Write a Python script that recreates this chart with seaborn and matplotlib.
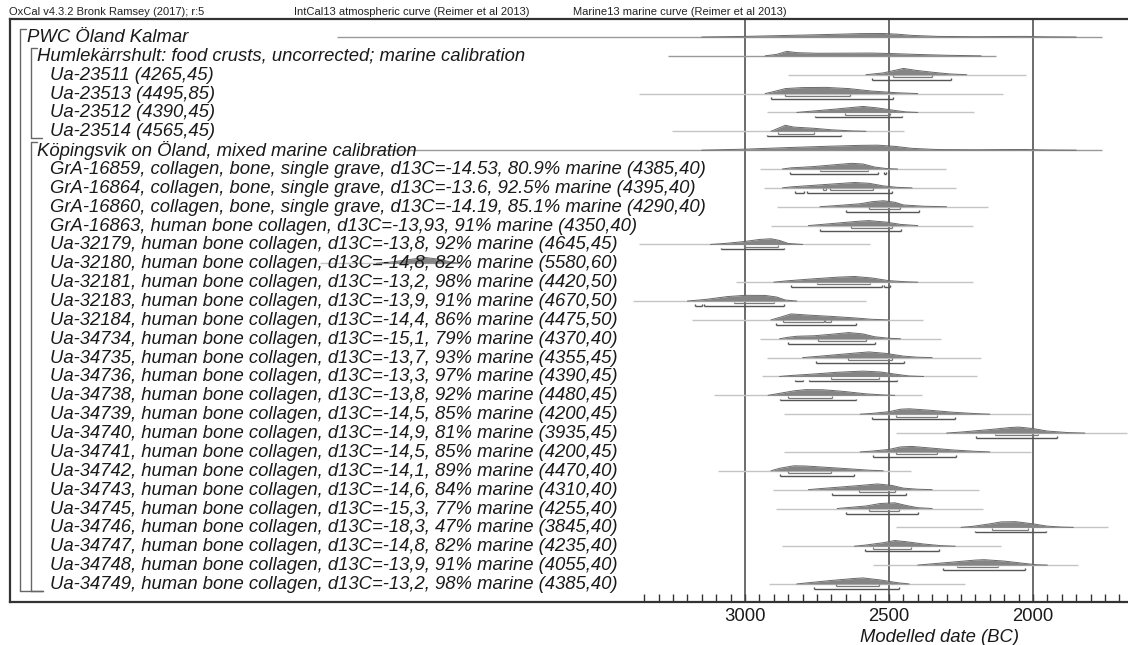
import numpy as np
import pandas as pd
import matplotlib
matplotlib.use("Agg")
from matplotlib import pyplot as plt
from matplotlib.transforms import blended_transform_factory
import seaborn as sns

labels = [
    "PWC Öland Kalmar",
    "Humlekärrshult: food crusts, uncorrected; marine calibration",
    "Ua-23511 (4265,45)",
    "Ua-23513 (4495,85)",
    "Ua-23512 (4390,45)",
    "Ua-23514 (4565,45)",
    "Köpingsvik on Öland, mixed marine calibration",
    "GrA-16859, collagen, bone, single grave, d13C=-14.53, 80.9% marine (4385,40)",
    "GrA-16864, collagen, bone, single grave, d13C=-13.6, 92.5% marine (4395,40)",
    "GrA-16860, collagen, bone, single grave, d13C=-14.19, 85.1% marine (4290,40)",
    "GrA-16863, human bone collagen, d13C=-13,93, 91% marine (4350,40)",
    "Ua-32179, human bone collagen, d13C=-13,8, 92% marine (4645,45)",
    "Ua-32180, human bone collagen, d13C=-14,8, 82% marine (5580,60)",
    "Ua-32181, human bone collagen, d13C=-13,2, 98% marine (4420,50)",
    "Ua-32183, human bone collagen, d13C=-13,9, 91% marine (4670,50)",
    "Ua-32184, human bone collagen, d13C=-14,4, 86% marine (4475,50)",
    "Ua-34734, human bone collagen, d13C=-15,1, 79% marine (4370,40)",
    "Ua-34735, human bone collagen, d13C=-13,7, 93% marine (4355,45)",
    "Ua-34736, human bone collagen, d13C=-13,3, 97% marine (4390,45)",
    "Ua-34738, human bone collagen, d13C=-13,8, 92% marine (4480,45)",
    "Ua-34739, human bone collagen, d13C=-14,5, 85% marine (4200,45)",
    "Ua-34740, human bone collagen, d13C=-14,9, 81% marine (3935,45)",
    "Ua-34741, human bone collagen, d13C=-14,5, 85% marine (4200,45)",
    "Ua-34742, human bone collagen, d13C=-14,1, 89% marine (4470,40)",
    "Ua-34743, human bone collagen, d13C=-14,6, 84% marine (4310,40)",
    "Ua-34745, human bone collagen, d13C=-15,3, 77% marine (4255,40)",
    "Ua-34746, human bone collagen, d13C=-18,3, 47% marine (3845,40)",
    "Ua-34747, human bone collagen, d13C=-14,8, 82% marine (4235,40)",
    "Ua-34748, human bone collagen, d13C=-13,9, 91% marine (4055,40)",
    "Ua-34749, human bone collagen, d13C=-13,2, 98% marine (4385,40)",
]
levels = [0, 1, 2, 2, 2, 2, 1] + [2] * 23

# unmodelled likelihood extent (BC)
lik_span = [
    (4417, 1760), (3267, 2128), (2852, 2025), (3368, 2105), (2924, 2205),
    (3253, 2448), (4299, 1760), (2948, 2302), (2933, 2267), (2888, 2156),
    (2911, 2210), (3367, 2567), (4476, 3990), (3032, 2210), (3389, 2580),
    (3184, 2382), (2948, 2320), (2924, 2182), (2942, 2196), (3106, 2387),
    (2863, 2007), (2476, 1674), (2863, 2007), (3094, 2422), (2904, 2186),
    (2892, 2174), (2476, 1740), (2872, 2112), (2557, 1844), (2917, 2236),
]

# modelled posterior outlines: (year BC, height in px)
posterior = [
    [(3150, 0), (3000, 0.6), (2850, 1.6), (2700, 2.6), (2600, 3.4), (2520, 3.5), (2470, 2.8),
     (2420, 1.6), (2330, 0.6), (2200, 0.3), (2100, 0.5), (2030, 0.6), (1960, 0.2), (1850, 0)],
    [(2930, 0), (2890, 1.5), (2855, 4.5), (2820, 3.2), (2750, 2.6), (2650, 2.7), (2560, 2.8),
     (2480, 2.2), (2400, 1.4), (2300, 0.6), (2180, 0)],
    [(2580, 0), (2520, 1.8), (2470, 5.0), (2450, 6.3), (2410, 4.5), (2350, 2.5), (2290, 0.8), (2230, 0)],
    [(2930, 0), (2900, 2.0), (2860, 5.0), (2800, 6.0), (2720, 6.2), (2640, 5.0), (2560, 2.5),
     (2470, 0.8), (2400, 0)],
    [(2820, 0), (2760, 1.5), (2680, 3.5), (2620, 5.2), (2590, 6.0), (2540, 4.5), (2480, 2.0),
     (2440, 0.5), (2400, 0)],
    [(2910, 0), (2885, 3.0), (2860, 6.0), (2830, 4.2), (2760, 3.0), (2700, 1.5), (2630, 0.4), (2580, 0)],
    [(3150, 0), (3000, 1.0), (2850, 2.6), (2700, 4.0), (2600, 4.8), (2540, 5.0), (2480, 3.8),
     (2420, 1.8), (2330, 0.6), (2200, 0.4), (2100, 0.6), (2030, 0.7), (1960, 0.2), (1850, 0)],
    [(2870, 0), (2840, 1.2), (2800, 1.8), (2760, 2.5), (2700, 4.0), (2630, 5.7), (2590, 5.0),
     (2550, 2.0), (2510, 0.5), (2470, 0)],
    [(2870, 0), (2840, 1.0), (2780, 2.2), (2700, 3.8), (2620, 5.4), (2570, 4.6), (2520, 2.0),
     (2470, 0.5), (2420, 0)],
    [(2740, 0), (2680, 1.2), (2600, 3.0), (2560, 5.0), (2520, 6.0), (2480, 4.5), (2450, 1.8),
     (2380, 0.5), (2300, 0)],
    [(2780, 0), (2740, 1.0), (2680, 2.5), (2600, 4.5), (2570, 5.0), (2510, 3.5), (2460, 1.2), (2400, 0)],
    [(3120, 0), (3070, 1.0), (3000, 3.0), (2950, 5.0), (2910, 5.7), (2880, 4.0), (2850, 1.0), (2800, 0)],
    [(4280, 0), (4220, 1.5), (4160, 4.0), (4110, 5.8), (4060, 4.0), (4020, 1.2), (3990, 0)],
    [(2900, 0), (2860, 1.2), (2780, 3.0), (2680, 5.0), (2620, 5.7), (2560, 4.2), (2500, 1.5),
     (2440, 0.4), (2400, 0)],
    [(3200, 0), (3140, 1.5), (3060, 4.5), (3000, 5.7), (2930, 5.6), (2890, 4.0), (2860, 1.0), (2820, 0)],
    [(2910, 0), (2880, 2.5), (2840, 6.0), (2780, 4.8), (2700, 3.5), (2620, 2.0), (2560, 0.6), (2500, 0)],
    [(2880, 0), (2850, 1.5), (2820, 2.5), (2760, 3.0), (2700, 4.5), (2640, 6.2), (2590, 4.8),
     (2550, 2.0), (2500, 0.5), (2460, 0)],
    [(2800, 0), (2750, 1.2), (2680, 3.0), (2600, 5.0), (2570, 5.7), (2510, 4.2), (2450, 1.5),
     (2400, 0.4), (2350, 0)],
    [(2880, 0), (2840, 1.0), (2760, 2.5), (2680, 4.2), (2590, 5.4), (2530, 4.5), (2470, 2.0),
     (2430, 0.5), (2380, 0)],
    [(2920, 0), (2880, 2.0), (2830, 4.5), (2790, 5.7), (2730, 5.6), (2660, 4.0), (2580, 1.5),
     (2520, 0.4), (2480, 0)],
    [(2600, 0), (2560, 0.8), (2500, 2.5), (2460, 5.0), (2430, 5.4), (2360, 4.0), (2280, 2.0),
     (2200, 0.6), (2150, 0)],
    [(2300, 0), (2250, 1.0), (2150, 3.5), (2080, 5.5), (2050, 6.0), (2000, 4.5), (1950, 2.0),
     (1880, 0.5), (1820, 0)],
    [(2600, 0), (2560, 0.8), (2500, 2.5), (2460, 5.0), (2420, 5.5), (2360, 4.0), (2280, 2.0),
     (2200, 0.6), (2150, 0)],
    [(2910, 0), (2880, 2.5), (2830, 5.0), (2790, 4.8), (2720, 3.5), (2640, 2.0), (2570, 0.6), (2520, 0)],
    [(2780, 0), (2740, 1.0), (2660, 2.8), (2600, 4.2), (2540, 5.7), (2490, 4.2), (2450, 1.5),
     (2400, 0.4), (2350, 0)],
    [(2680, 0), (2640, 1.0), (2580, 2.5), (2530, 5.0), (2480, 5.7), (2440, 3.0), (2400, 0.8), (2350, 0)],
    [(2250, 0), (2210, 1.0), (2150, 3.5), (2110, 5.5), (2060, 5.7), (2000, 3.5), (1950, 1.2),
     (1900, 0.3), (1860, 0)],
    [(2620, 0), (2580, 1.2), (2520, 3.5), (2480, 5.7), (2440, 4.5), (2380, 2.2), (2320, 0.6), (2270, 0)],
    [(2400, 0), (2360, 1.0), (2280, 3.0), (2200, 5.0), (2170, 5.4), (2100, 4.0), (2040, 2.0),
     (1990, 0.4), (1950, 0)],
    [(2820, 0), (2780, 1.2), (2700, 3.5), (2620, 5.5), (2590, 6.0), (2530, 4.0), (2470, 1.2), (2430, 0)],
]

# highest posterior density ranges (BC)
range68 = [
    [], [], [(2487, 2349)], [(2860, 2636)], [(2653, 2498)], [(2885, 2761)], [],
    [(2738, 2574)], [(2729, 2719), (2705, 2557)], [(2568, 2461)], [(2632, 2491)],
    [(3003, 2886)], [], [(2750, 2566)], [(3039, 2900)], [(2869, 2726), (2722, 2701)],
    [(2747, 2580)], [(2642, 2490)], [(2701, 2533)], [(2849, 2698)], [(2476, 2334)],
    [(2132, 1983)], [(2476, 2334)], [(2852, 2701)], [(2604, 2479)], [(2568, 2467)],
    [(2142, 2019)], [(2554, 2425)], [(2264, 2122)], [(2683, 2533)],
]
range95 = [
    [], [], [(2559, 2286)], [(2910, 2485)], [(2758, 2456)], [(2925, 2665)], [],
    [(2845, 2537), (2518, 2512)], [(2828, 2796), (2785, 2490)], [(2648, 2395)], [(2738, 2457)],
    [(3085, 2863)], [], [(2842, 2524), (2516, 2498)], [(3173, 3150), (3143, 2865)],
    [(2892, 2615)], [(2852, 2547)], [(2752, 2449)], [(2826, 2800), (2778, 2471)],
    [(2878, 2615)], [(2559, 2272)], [(2197, 1917)], [(2555, 2268)], [(2878, 2623)],
    [(2699, 2442)], [(2650, 2399)], [(2203, 1955)], [(2585, 2328)], [(2313, 2028)],
    [(2760, 2465)],
]

header = [
    "OxCal v4.3.2 Bronk Ramsey (2017); r:5",
    "IntCal13 atmospheric curve (Reimer et al 2013)",
    "Marine13 marine curve (Reimer et al 2013)",
]
header_x = [9, 294, 573]
major_years = [3000, 2500, 2000]

# ---- layout ----
W, H = 1128, 645
ROW = 18.86          # px per row
Y0 = 37              # px of first row
FR_TOP, FR_BOT = 19, 602
PX_L, PX_R = 10, 1135
YR_PER_PX = 500 / 144.0
yr_left = 3000 + (745 - PX_L) * YR_PER_PX
yr_right = 2000 - (PX_R - 1033) * YR_PER_PX
FS = 13.3

sns.set_theme(style="white")
plt.rcParams["font.family"] = ["Liberation Sans", "DejaVu Sans"]

fig = plt.figure(figsize=(W / 100, H / 100), dpi=100)
ax = fig.add_axes([PX_L / W, (H - FR_BOT) / H, (PX_R - PX_L) / W, (FR_BOT - FR_TOP) / H])
ax.set_xlim(yr_left, yr_right)
ax.set_ylim((FR_BOT - Y0) / ROW, (FR_TOP - Y0) / ROW)

n = len(labels)
rows = np.arange(n)
hpx = 1.0 / ROW  # one pixel in row units

# likelihood lines
for r in rows:
    a, b = lik_span[r]
    col = "#9a9a9a" if levels[r] < 2 else "#c4c4c4"
    ax.hlines(r, a, b, color=col, lw=1.0, zorder=2)

# posteriors
recs = []
for r in rows:
    for yr, h in posterior[r]:
        recs.append({"row": r, "year": yr, "top": r - h * hpx})
df = pd.DataFrame(recs)
for r in rows:
    d = df[df["row"] == r]
    ax.fill_between(d["year"], r, d["top"], color="#858585", lw=0, zorder=3)
sns.lineplot(data=df, x="year", y="top", units="row", estimator=None, sort=False,
             color="#6a6a6a", lw=0.7, ax=ax, legend=False, zorder=4)
ax.set_xlabel("")
ax.set_ylabel("")


def bracket_bar(r, a, b, off, col, lw):
    y = r + off * hpx
    ax.hlines(y, a, b, color=col, lw=lw, zorder=5)
    ax.vlines([a, b], y - 1.8 * hpx, y, color=col, lw=lw, zorder=5)


for r in rows:
    for a, b in range68[r]:
        bracket_bar(r, a, b, 2.3, "#7a7a7a", 0.9)
    for a, b in range95[r]:
        bracket_bar(r, a, b, 5.0, "#555555", 1.0)

# labels and brackets on the left (figure px in x, rows in y)
tr = blended_transform_factory(fig.transFigure, ax.transData)
indent_px = {0: 27, 1: 37, 2: 50}
for r in rows:
    ax.text(indent_px[levels[r]] / W, r + 0.5 * hpx, labels[r], transform=tr,
            fontsize=FS, style="italic", color="#1a1a1a", va="center", ha="left",
            zorder=6)


def group(x_px, r_top, r_bot, x_end_px):
    yt = r_top - 8 * hpx
    yb = r_bot + 7 * hpx
    ax.plot([x_px / W + 6 / W, x_px / W, x_px / W], [yt, yt, yb], transform=tr,
            color="#666666", lw=1.0, clip_on=False)
    ax.plot([x_px / W, x_end_px / W], [yb, yb], transform=tr,
            color="#666666", lw=1.0, clip_on=False)


group(20, 0, 29, 43)
group(31, 1, 5, 42)
group(31, 6, 29, 43)

# grid lines at labelled years
for yr in major_years:
    ax.axvline(yr, color="#444444", lw=1.1, zorder=1)

# axis
ticks = np.arange(1700, 3351, 50)
ax.set_xticks(ticks)
ax.set_xticklabels([str(t) if t in major_years else "" for t in ticks])
ax.tick_params(axis="x", direction="in", length=6, width=1.0, color="#333333",
               labelsize=FS, pad=4, labelcolor="#1a1a1a", bottom=True)
ax.set_yticks([])
for s in ["top", "left", "bottom", "right"]:
    ax.spines[s].set_color("#333333")
    ax.spines[s].set_linewidth(1.6)

fig.text(939 / W, 1 - 638 / H, "Modelled date (BC)", fontsize=FS, style="italic",
         ha="center", va="center", color="#1a1a1a")
for t, x in zip(header, header_x):
    fig.text(x / W, 1 - 12 / H, t, fontsize=8.0,
             family=["Liberation Sans Narrow", "Liberation Sans", "DejaVu Sans"],
             ha="left", va="center", color="#222222")

fig.savefig("out.png", dpi=100)
